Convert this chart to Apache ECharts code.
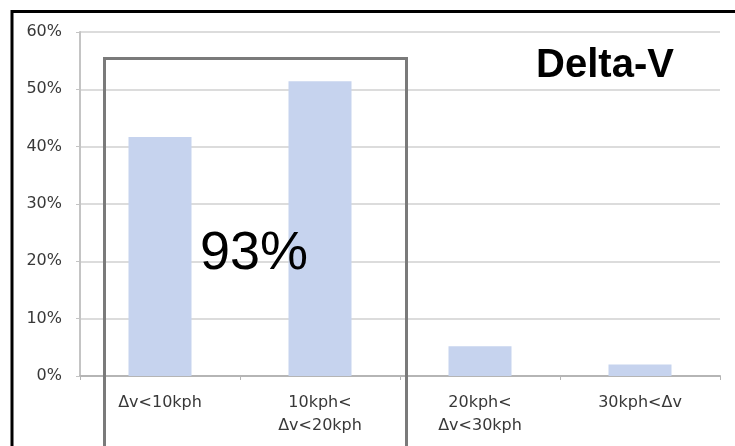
<!DOCTYPE html>
<html>
<head>
<meta charset="utf-8">
<script src="https://cdn.jsdelivr.net/npm/echarts@6/dist/echarts.min.js"></script>
<style>
html,body{margin:0;padding:0;background:#fff;}
#chart{width:735px;height:446px;}
</style>
</head>
<body>
<div id="chart"></div>
<script>
var categories = ['Δv<10kph', '10kph<\nΔv<20kph', '20kph<\nΔv<30kph', '30kph<Δv'];
var shares = [41.7, 51.4, 5.2, 2.0];
var yTicks = { min: 0, max: 60, interval: 10 };
var titleText = 'Delta-V';
var boxText = '93%';

var chart = echarts.init(document.getElementById('chart'));
chart.setOption({
  animation: false,
  backgroundColor: '#ffffff',
  grid: { left: 80, right: 15, top: 32, bottom: 70, containLabel: false },
  xAxis: {
    type: 'category',
    data: categories,
    boundaryGap: true,
    axisLine: { show: true, lineStyle: { color: '#b5b5b5', width: 2 } },
    axisTick: { show: true, alignWithLabel: false, length: 4, lineStyle: { color: '#b5b5b5' } },
    axisLabel: {
      color: '#383838', fontFamily: 'DejaVu Sans', fontSize: 16, lineHeight: 23, margin: 15,
      interval: 0
    },
    splitLine: { show: false }
  },
  yAxis: {
    type: 'value',
    min: yTicks.min, max: yTicks.max, interval: yTicks.interval,
    axisLine: { show: true, lineStyle: { color: '#c4c4c4', width: 2 } },
    axisTick: { show: true, length: 4, lineStyle: { color: '#c4c4c4' } },
    axisLabel: {
      formatter: '{value}%', color: '#383838', fontFamily: 'DejaVu Sans', fontSize: 16, margin: 18
    },
    splitLine: { show: true, lineStyle: { color: '#dcdcdc', width: 2 } }
  },
  series: [{
    type: 'bar',
    data: shares,
    barWidth: 63,
    itemStyle: { color: '#c6d3ee' },
    silent: true
  }],
  graphic: [
    {
      type: 'rect', z: 100,
      shape: { x: 12, y: 11.5, width: 800, height: 500 },
      style: { fill: 'none', stroke: '#000', lineWidth: 3 }
    },
    {
      type: 'rect', z: 100,
      shape: { x: 104.5, y: 58.5, width: 302, height: 500 },
      style: { fill: 'none', stroke: '#7a7a7a', lineWidth: 3 }
    },
    {
      type: 'text', z: 101,
      x: 254, y: 254,
      style: {
        text: boxText, fill: '#000', fontFamily: 'Liberation Sans', fontSize: 54,
        align: 'center', verticalAlign: 'middle'
      }
    },
    {
      type: 'text', z: 101,
      x: 605, y: 66,
      style: {
        text: titleText, fill: '#000', fontFamily: 'Liberation Sans', fontWeight: 'bold', fontSize: 40,
        align: 'center', verticalAlign: 'middle'
      }
    }
  ]
});
</script>
</body>
</html>
